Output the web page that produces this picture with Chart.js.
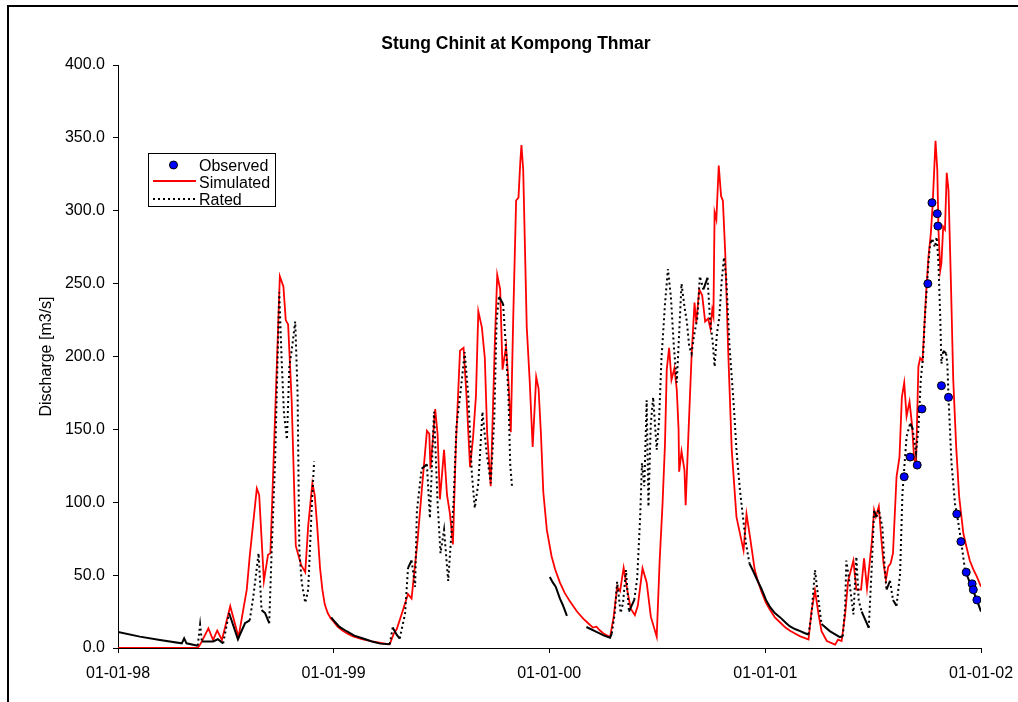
<html>
<head>
  <meta charset="utf-8">
  <script type="text/javascript" src="https://cdn.jsdelivr.net/npm/chart.js@4.4.0/dist/chart.umd.min.js"></script>
  <style>
    html, body { margin: 0; padding: 0; background: #fff; overflow: hidden; }
    #wrap { position: relative; width: 1018px; height: 702px; }
  </style>
</head>
<body>
  <div id="wrap"><canvas id="ctx"></canvas></div>

  <script type="text/javascript">

    // days counted from 01-01-98
    xTickDays = [0, 365, 730, 1096, 1461];
    xTickLabels = ["01-01-98", "01-01-99", "01-01-00", "01-01-01", "01-01-02"];
    yTicks = [0, 50, 100, 150, 200, 250, 300, 350, 400];

    chartTitle = "Stung Chinit at Kompong Thmar";
    yTitle = "Discharge [m3/s]";

    obsDay = [1331, 1341, 1353, 1361, 1371, 1378, 1387, 1388, 1394, 1406, 1420, 1427, 1436, 1446, 1448, 1454];
    obsVal = [117.5, 131, 125.5, 164, 250, 305.5, 298, 289.5, 180, 172, 92, 73, 52, 44, 40, 33];

    simDay = [0, 110, 135, 140, 153, 161, 168, 176, 190, 204,
      218, 223, 235, 239, 247, 254, 258, 263, 274, 280,
      284, 288, 294, 301, 310, 317, 322, 329, 333, 337,
      342, 346, 350, 355, 360, 365, 372, 380, 388, 398,
      413, 430, 447, 460, 467, 472, 480, 491, 497, 507,
      514, 523, 527, 529, 537, 541, 545, 552, 557, 562,
      567, 572, 579, 585, 590, 596, 601, 606, 610, 616,
      621, 625, 631, 638, 642, 647, 651, 657, 661, 665,
      669, 674, 678, 681, 683, 686, 692, 697, 702, 708,
      712, 716, 720, 726, 730, 734, 740, 748, 756, 765,
      777, 788, 796, 804, 810, 816, 822, 833, 839, 845,
      850, 856, 862, 868, 875, 880, 888, 895, 902, 912,
      917, 922, 926, 929, 933, 937, 942, 946, 949, 950,
      954, 959, 961, 966, 971, 976, 979, 984, 989, 994,
      999, 1003, 1006, 1008, 1010, 1013, 1017, 1021, 1024, 1028,
      1033, 1039, 1047, 1059, 1064, 1070, 1078, 1084, 1090, 1097,
      1104, 1112, 1121, 1130, 1137, 1146, 1155, 1162, 1169, 1174,
      1180, 1186, 1191, 1200, 1214, 1219, 1225, 1231, 1236, 1245,
      1250, 1258, 1263, 1268, 1276, 1280, 1283, 1288, 1292, 1296,
      1300, 1304, 1308, 1312, 1318, 1323, 1327, 1331, 1335, 1340,
      1344, 1348, 1351, 1355, 1358, 1362, 1368, 1372, 1376, 1379,
      1381, 1384, 1387, 1389, 1392, 1394, 1397, 1400, 1403, 1406,
      1410, 1414, 1419, 1424, 1431, 1436, 1442, 1448, 1454, 1461];
    simVal = [0, 0, 0, 3, 13.5, 5.5, 12, 5.5, 28.7, 7.5,
      40, 63, 109.5, 105, 46, 64, 65, 124, 255, 248,
      225, 222, 170, 70, 57, 52, 84, 113, 105, 85,
      55, 40, 30, 24, 20.5, 18, 14.5, 12, 10, 8,
      6, 4.5, 3.3, 2.5, 10, 13, 23, 37, 34, 73,
      107, 149, 147, 123, 164, 147, 102, 136, 105, 92,
      71, 139, 204, 206, 173, 124, 144, 173, 231, 220,
      199, 147, 111, 210, 256, 246, 191, 207, 183, 148,
      225, 307, 309, 333, 345, 328, 220, 183, 138, 186,
      178, 147, 107, 81, 72, 63, 54, 45, 38, 32,
      25, 20, 17, 14, 14.6, 12, 10, 7.5, 21, 42,
      39, 55, 40, 27, 22.6, 29, 54.7, 45, 21.5, 7.8,
      60, 100, 140, 191, 206, 184, 192, 177, 150, 121,
      135, 122, 98, 150, 200, 237, 223, 246, 242, 224,
      226, 219, 232, 228, 299, 294, 331, 310, 307, 271,
      204, 136, 90, 67, 92, 76, 53.5, 45, 38, 31,
      26, 21, 17.5, 14, 12, 10, 8, 7, 5.8, 25,
      39.5, 23, 11.6, 4.8, 2.3, 5.8, 4.8, 23, 46, 60,
      40, 40, 61.5, 41, 72, 94.7, 90, 97, 76, 58,
      46.7, 55.8, 58, 65, 117.5, 131, 172, 182, 159, 169,
      154, 129, 127, 193, 199, 197, 243, 268, 284, 303,
      321, 348, 328, 287, 259, 264, 289, 287, 326, 314,
      252, 184, 138, 104, 79, 70, 60, 54, 49, 42];

    // null = no rated value (gap in the record)
    ratedDay = [0, 37, 71, 108, 112, 116, 135, 139, 142, 161,
      169, 178, 188, 203, 215, 223, 229, 238, 243, 249,
      256, 260, 266, 273, 277, 281, 286, 290, 294, 300,
      304, 307, 311, 317, 322, 328, 332, 345, 361, 367,
      375, 387, 400, 415, 430, 444, 460, 465, 472, 477,
      486, 491, 497, 503, 506, 514, 523, 528, 535, 541,
      546, 552, 559, 568, 573, 580, 587, 593, 599, 604,
      610, 617, 624, 631, 637, 641, 645, 652, 657, 661,
      664, 667, 700, 731, 736, 741, 748, 753, 760, 776,
      793, 810, 823, 833, 836, 841, 845, 851, 855, 860,
      865, 874, 879, 884, 887, 891, 895, 898, 902, 906,
      912, 916, 920, 926, 931, 936, 941, 946, 950, 954,
      959, 963, 967, 971, 975, 981, 985, 991, 998, 1002,
      1007, 1010, 1014, 1018, 1022, 1026, 1030, 1035, 1039, 1043,
      1047, 1053, 1058, 1063, 1069, 1075, 1083, 1090, 1097, 1104,
      1112, 1121, 1130, 1137, 1146, 1155, 1162, 1169, 1174, 1180,
      1186, 1191, 1205, 1222, 1227, 1231, 1233, 1238, 1245, 1250,
      1254, 1259, 1271, 1276, 1280, 1284, 1288, 1294, 1298, 1301,
      1307, 1312, 1318, 1324, 1328, 1335, 1341, 1345, 1351, 1355,
      1359, 1363, 1366, 1372, 1375, 1379, 1383, 1386, 1389, 1392,
      1394, 1397, 1402, 1404, 1406, 1411, 1417, 1421, 1427, 1434,
      1440, 1445, 1450, 1454, 1461];
    ratedVal = [11, 7.8, 5.5, 3.2, 6.6, 3.2, 1.6, 16, 4.5, 4.5,
      6, 3.2, 24, 6, 17, 19, 35, 65, 26, 24,
      17, 65, 129, 244, 198, 161, 143, 193, 204, 224,
      175, 67, 45, 31, 40, 97, 128, null, 21, 18,
      14.5, 11.5, 8.5, 6.5, 4.5, 3, 2.6, 14, 9, 6.5,
      23.6, 55, 60, 42, 94, 123, 126, 89, 162, 100,
      65, 81, 46, 100, 152, 176, 203, 173, 120, 96,
      113, 162, 134, 113, 157, 225, 241, 236, 204, 173,
      126, 111, null, 48.7, 45, 42, 34, 29.5, 22, null,
      14.4, 11, 8.5, 7, 10, 24, 45.5, 24, 31, 53.5,
      25, 33, 48, 90, 127, 111, 170, 97, 154, 172,
      136, 156, 198, 236, 260, 241, 207, 182, 216, 250,
      234, 224, 207, 202, 214, 227, 255, 246, 254, 227,
      209, 193, 216, 227, 252, 268, 252, 209, 186, 163,
      136, 108, 90, 72, 58, 53, 46, 40, 33, 28,
      24, 21, 17.5, 15, 13, 11.6, 10.3, 9.3, 23, 53.5,
      32.5, 16.5, 11.6, 7.5, 8, 28, 60, 46, 23, 62.6,
      32.5, 25, 13.9, 55, 94, 90, 95, 83, 55, 40,
      46, 33, 29, 51, 106, 145, 154, 151, 134, 150,
      184, 200, 227, 264, 278, 280, 275, 282, 264, 227,
      195, 204, 202, 195, 172, 127, 99, 90, 74, 53.5,
      47, 42, 37, 33, 25];

    fam = "'Liberation Sans', Arial, sans-serif";

    function pts(days, vals) {
      return days.map(function(d, i) { return {x: d, y: vals[i]}; });
    }

    // steep stretches of the rated line show as dots, flat ones look solid
    function ratedDash(c) {
      var dx = Math.abs(c.p1.x - c.p0.x) || 0.01;
      var dy = Math.abs(c.p1.y - c.p0.y);
      return dy / dx > 3 ? [2, 3] : [];
    }

    decor = {
      id: 'decor',
      beforeDraw: function(chart) {
        var c = chart.ctx;
        c.save();
        c.fillStyle = '#fff';
        c.fillRect(0, 0, chart.width, chart.height);
        c.fillStyle = '#000';
        c.fillRect(7, 5, 2, chart.height);
        c.fillRect(7, 5, chart.width, 2);
        c.restore();
      },
      afterDraw: function(chart) {
        var c = chart.ctx;
        c.save();
        c.fillStyle = '#000';
        c.textAlign = 'center';
        c.textBaseline = 'alphabetic';
        c.font = 'bold 17.5px ' + fam;
        c.fillText(chartTitle, 516, 49);

        c.save();
        c.translate(47, (chart.chartArea.top + chart.chartArea.bottom) / 2);
        c.rotate(-Math.PI / 2);
        c.font = '16px ' + fam;
        c.textBaseline = 'middle';
        c.fillText(yTitle, 0, 0);
        c.restore();

        // legend box
        c.fillStyle = '#fff';
        c.fillRect(148.5, 153.5, 127, 53);
        c.strokeStyle = '#000';
        c.lineWidth = 1;
        c.strokeRect(148.5, 153.5, 127, 53);

        var ds = chart.data.datasets;
        var base = [171, 188, 204.5];
        c.font = '16px ' + fam;
        c.textAlign = 'left';
        c.fillStyle = '#000';
        for (var i = 0; i < 3; i++) {
          c.fillText(ds[i].label, 199, base[i]);
        }
        c.beginPath();
        c.arc(173.5, 165, 4, 0, Math.PI * 2);
        c.fillStyle = '#0000ff';
        c.fill();
        c.stroke();

        c.beginPath();
        c.strokeStyle = '#ff0000';
        c.lineWidth = 1.8;
        c.moveTo(153, 181);
        c.lineTo(196, 181);
        c.stroke();

        c.beginPath();
        c.strokeStyle = '#000';
        c.lineWidth = 2;
        c.setLineDash([2, 3]);
        c.moveTo(153, 199);
        c.lineTo(196, 199);
        c.stroke();
        c.restore();
      }
    };

    chart = new Chart(document.getElementById('ctx'), {
      type: 'line',
      data: {
        datasets: [{
          label: 'Observed',
          data: pts(obsDay, obsVal),
          showLine: false,
          pointRadius: 4,
          pointHoverRadius: 4,
          pointBackgroundColor: '#0000ff',
          pointBorderColor: '#000000',
          pointBorderWidth: 1,
          order: 0
        }, {
          label: 'Simulated',
          data: pts(simDay, simVal),
          borderColor: '#ff0000',
          borderWidth: 1.8,
          pointRadius: 0,
          tension: 0,
          fill: false,
          order: 2
        }, {
          label: 'Rated',
          data: pts(ratedDay, ratedVal),
          borderColor: '#000000',
          borderWidth: 2,
          pointRadius: 0,
          tension: 0,
          fill: false,
          spanGaps: false,
          segment: { borderDash: ratedDash },
          order: 1
        }]
      },
      options: {
        responsive: true,
        maintainAspectRatio: false,
        animation: false,
        layout: { padding: { top: 65, right: 37, left: 0, bottom: 0 } },
        plugins: {
          legend: { display: false },
          title: { display: false },
          tooltip: { enabled: false }
        },
        scales: {
          x: {
            type: 'linear',
            min: 0,
            max: 1461,
            afterFit: function(s) {
              s.height = 54;
              s.paddingLeft = 0;
              s.paddingRight = 0;
            },
            afterBuildTicks: function(s) {
              s.ticks = xTickDays.map(function(v) { return {value: v}; });
            },
            ticks: {
              autoSkip: false,
              maxRotation: 0,
              padding: 11,
              color: '#000',
              font: { family: fam, size: 16 },
              callback: function(v) { return xTickLabels[xTickDays.indexOf(v)]; }
            },
            grid: { display: true, drawOnChartArea: false, drawTicks: true, tickLength: 5, color: '#000', tickColor: '#000' },
            border: { display: true, color: '#000', width: 1 }
          },
          y: {
            min: 0,
            max: 400,
            afterFit: function(s) { s.width = 118; },
            afterBuildTicks: function(s) {
              s.ticks = yTicks.map(function(v) { return {value: v}; });
            },
            ticks: {
              padding: 8,
              color: '#000',
              font: { family: fam, size: 16 },
              callback: function(v) { return v.toFixed(1); }
            },
            grid: { display: true, drawOnChartArea: false, drawTicks: true, tickLength: 5, color: '#000', tickColor: '#000' },
            border: { display: true, color: '#000', width: 1 }
          }
        }
      },
      plugins: [decor]
    });

  </script>
</body>
</html>
